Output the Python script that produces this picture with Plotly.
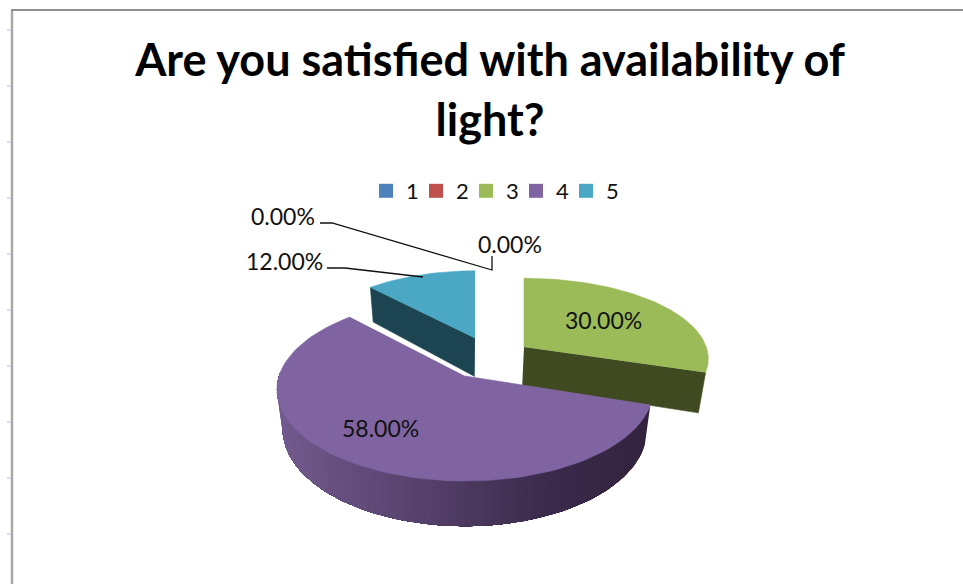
import math
import plotly.graph_objects as go

CATEGORIES = ["1", "2", "3", "4", "5"]
VALUES = [0, 0, 30, 58, 12]
TITLE_LINES = ["Are you satisfied with availability of", "light?"]
COLORS = ["#4F81BD", "#C0504D", "#9BBB59", "#8064A2", "#4AA8C4"]
WALLS = ["#2A4A6E", "#6E2A28", "#3F4A20", "#3A2A4A", "#1D4451"]

W, H = 963, 584
CX, CY, RX, RY, K = 465, 376, 186, 89.6, -0.147
DEPTH, LEAN = 38.5, 0.97
# exploded slices: shift of the apex, then horizontal / vertical shrink from being further back
PLACE = {2: (59, -29, 0.98, 0.88), 3: (0, 0, 1, 1), 4: (10, -38, 0.91, 0.86)}
FONT = "Lato"


def top(angle, r, off):
    u, v = math.sin(angle) * r, -math.cos(angle) * r
    f = 1 / (1 + K * v)
    return CX + off[0] + RX * off[2] * u * f, CY + off[1] + RY * off[3] * v * f


def low(angle, r, off):
    x, y = top(angle, r, off)
    v = -math.cos(angle) * r
    return CX + (x - CX) * LEAN, y + DEPTH / (1 + K * v)


def mix(a, b, t):
    ca = [int(a[i:i + 2], 16) for i in (1, 3, 5)]
    cb = [int(b[i:i + 2], 16) for i in (1, 3, 5)]
    return "rgb(%d,%d,%d)" % tuple(round(p + (q - p) * t) for p, q in zip(ca, cb))


def poly(pts, color, group, width=0.6):
    return go.Scatter(x=[p[0] for p in pts], y=[p[1] for p in pts], mode="lines",
                      fill="toself", fillcolor=color, line=dict(color=color, width=width),
                      hoverinfo="skip", showlegend=False, legendgroup=group)


def line(pts, width=1.3):
    return go.Scatter(x=[p[0] for p in pts], y=[p[1] for p in pts], mode="lines",
                      line=dict(color="#111111", width=width), hoverinfo="skip", showlegend=False)


total = sum(VALUES)
spans, start = [], 0.0
for v in VALUES:
    end = start + v / total * 2 * math.pi
    spans.append((start, end))
    start = end

fig = go.Figure()
for i in (4, 2, 3):
    a0, a1 = spans[i]
    off = PLACE[i]
    n = 90
    arc = [a0 + (a1 - a0) * j / n for j in range(n + 1)]
    if i == 3:
        # outer curved wall, shaded from light on the left to dark on the right;
        # each strip runs on to the far end so no seams show between them
        vis = [a for a in arc if a <= 1.5 * math.pi + 0.05]
        for k, (a, b) in enumerate(zip(vis[:-1], vis[1:])):
            xm = top((a + b) / 2, 1, off)[0]
            t = (xm - 277) / (650 - 277)
            if t < 0.72:
                col = mix("#735A8E", "#3C2B4C", t / 0.72)
            else:
                col = mix("#3C2B4C", "#32233E", (t - 0.72) / 0.28)
            rest = vis[k:]
            pts = [top(x, 1, off) for x in rest] + [low(x, 1, off) for x in reversed(rest)]
            fig.add_trace(poly(pts, col, CATEGORIES[i], width=0))
    else:
        # radial cut wall facing the viewer
        cut = a0 if i == 4 else a1
        fig.add_trace(poly([top(cut, 0, off), top(cut, 1, off), low(cut, 1, off), low(cut, 0, off)], WALLS[i], CATEGORIES[i]))
    fig.add_trace(poly([top(0, 0, off)] + [top(a, 1, off) for a in arc], COLORS[i], CATEGORIES[i]))

# leader lines
fig.add_trace(line([(320, 223), (332, 223), (492, 270), (492, 256)]))
fig.add_trace(line([(327, 268), (345, 268), (423, 277)]))

# legend entries
for c, col in zip(CATEGORIES, COLORS):
    fig.add_trace(go.Scatter(x=[None], y=[None], mode="markers", name=c, legendgroup=c,
                             marker=dict(symbol="square", size=14, color=col)))
# blank entry so the legend box is wide enough not to clip the last label
fig.add_trace(go.Scatter(x=[None], y=[None], mode="markers", name="\u00a0",
                         marker=dict(symbol="square", size=14, color="rgba(0,0,0,0)")))

labels = [(283, 216, VALUES[0]), (510, 244, VALUES[1]), (284, 261, VALUES[4]),
          (603, 320, VALUES[2]), (380, 428, VALUES[3])]
annotations = [dict(x=x, y=y, text=f"{v:.2f}%", showarrow=False, xref="x", yref="y",
                    font=dict(family=FONT, size=23, color="#111111")) for x, y, v in labels]

shapes = [dict(type="line", xref="x", yref="y", x0=12, y0=10, x1=12, y1=H, line=dict(color="#A8A8A8", width=2.5)),
          dict(type="line", xref="x", yref="y", x0=11, y0=10, x1=W, y1=10, line=dict(color="#8F8F8F", width=2))]
for y in range(30, H, 56):
    shapes.append(dict(type="line", xref="x", yref="y", x0=7, y0=y, x1=11, y1=y, line=dict(color="#D5DEEA", width=2)))

title = "<br>".join(f'<span style="font-size:45px">{t}</span>' for t in TITLE_LINES)
fig.update_layout(
    width=W, height=H, margin=dict(l=0, r=0, t=0, b=0), paper_bgcolor="white", plot_bgcolor="white",
    title=dict(text=f"<b>{title}</b>", x=490 / W, xanchor="center", y=1 - 76 / H, yanchor="top",
               font=dict(family=FONT, size=46, color="#000000")),
    xaxis=dict(range=[0, W], visible=False, fixedrange=True),
    yaxis=dict(range=[H, 0], visible=False, fixedrange=True),
    legend=dict(orientation="h", x=366 / W, y=1 - 191 / H, xanchor="left", yanchor="middle",
                entrywidth=5, entrywidthmode="pixels", bgcolor="rgba(0,0,0,0)",
                font=dict(family=FONT, size=22, color="#111111")),
    annotations=annotations, shapes=shapes,
)
fig.write_html("out.html", config=dict(displayModeBar=False),
               post_script="document.body.style.margin='0';document.documentElement.style.overflow='hidden';")
